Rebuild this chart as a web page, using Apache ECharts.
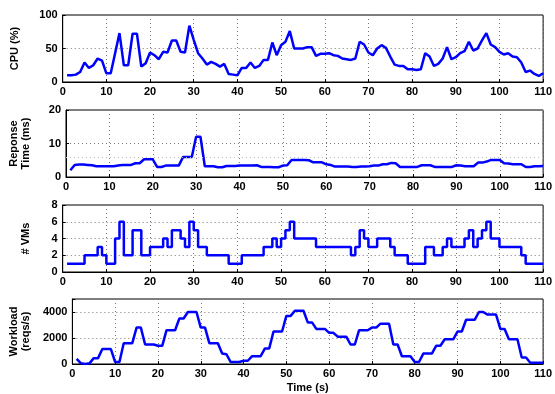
<!DOCTYPE html>
<html>
<head>
<meta charset="utf-8">
<script src="https://cdn.jsdelivr.net/npm/echarts@6/dist/echarts.min.js"></script>
<style>
html,body{margin:0;padding:0;background:#fff;}
#c{width:555px;height:394px;}
</style>
</head>
<body>
<div id="c"></div>
<script>
var time = [1,2,3,4,5,6,7,8,9,10,11,12,13,14,15,16,17,18,19,20,21,22,23,24,25,26,27,28,29,30,
31,32,33,34,35,36,37,38,39,40,41,42,43,44,45,46,47,48,49,50,51,52,53,54,55,56,57,58,59,60,
61,62,63,64,65,66,67,68,69,70,71,72,73,74,75,76,77,78,79,80,81,82,83,84,85,86,87,88,89,90,
91,92,93,94,95,96,97,98,99,100,101,102,103,104,105,106,107,108,109,110];

var cpu = [10,10,11,15,29,21,25,35,32,13,13,43,73,25,25,72,72,23,28,44,40,34,45,44,62,62,45,44,84,63,
43,35,26,30,27,23,27,12,11,10,21,21,29,21,24,33,33,59,40,55,60,76,50,50,50,52,52,39,42,42,
43,40,39,35,34,33,35,60,56,44,40,50,55,51,38,26,24,24,19,19,18,19,43,38,24,27,35,52,34,37,
43,46,60,47,50,62,73,56,52,45,41,43,38,37,29,15,17,12,9,13];

var resp = [2,3.6,3.7,3.7,3.6,3.5,3.2,3.2,3.2,3.2,3.2,3.4,3.6,3.6,3.6,4.1,4.1,5.3,5.3,5.3,3,3,3.4,3.4,3.4,3.4,6,6,6,12,
12,3.2,3.2,3.2,2.9,2.9,3.3,3.3,3.3,3.4,3.4,3.4,3.4,3.5,3,3,3,2.9,2.9,3.4,3.5,5.1,5.1,5.1,5.1,5,4.4,4.4,4.4,3.8,
3.6,3.1,3.1,3.1,3.1,3,3,3.1,3.1,3.2,3.4,3.4,3.8,3.8,4.2,4.1,3,3,3,3,3,3.5,3.5,3.5,3,3,3,3,3,3.5,
3.4,3.2,3.2,3.2,4.3,4.3,4.6,5.1,5.1,5.1,4.1,4,3.8,3.8,3.8,3,3,3.2,3.2,3.3];

var vms = [1,1,1,1,2,2,2,3,2,1,1,4,6,2,2,5,5,2,2,3,3,3,4,3,5,5,4,3,6,5,
3,3,2,2,2,2,2,1,1,1,2,2,2,2,2,3,3,4,3,4,5,6,4,4,4,4,4,3,3,3,
3,3,3,3,3,2,3,5,4,3,3,4,4,4,3,2,2,2,1,1,1,1,3,3,2,2,3,4,3,3,
3,4,5,3,4,5,6,4,4,3,3,3,3,3,2,1,1,1,1,1];

var workload = [400,50,0,50,450,450,1150,1150,1150,150,150,1600,1600,1600,2800,2800,1500,1500,1500,1400,1400,2600,2600,2600,3500,3500,4000,4000,4000,2800,
2800,1600,1600,1600,800,750,150,150,150,250,250,600,600,600,1200,1200,2500,2500,2500,3700,3700,4100,4100,4100,3200,3200,2700,2700,2700,2400,
2400,2100,2100,2100,1500,1500,2600,2600,2600,2800,2800,3100,3100,3100,1500,1500,600,600,600,150,150,800,800,800,1400,1400,1900,1900,1900,2500,
2500,3400,3400,3400,4000,4000,3800,3800,3800,2700,2700,1900,1900,1900,500,500,100,100,100,100];

var xTicks = [0,10,20,30,40,50,60,70,80,90,100,110];
var cpuTicks = [0,50,100];
var respTicks = [0,10,20];
var vmTicks = [0,2,4,6,8];
var wlTicks = [0,2000,4000];
var respThreshold = 6;

var yNames = ['CPU (%)', 'Reponse\nTime (ms)', '# VMs', 'Workload\n(reqs/s)'];

function pairs(vals){ return time.map(function(t,i){ return [t, vals[i]]; }); }

var FONT = 'Liberation Sans, Arial, Helvetica, sans-serif';
var tops = [15, 110, 205, 299];
var H = 67;

var grids = tops.map(function(t){
  return {left: 62.7, right: 8, top: t, height: H, show: true, borderColor: '#000', borderWidth: 1, backgroundColor: 'transparent'};
});

var gridLine = {show: true, lineStyle: {color: '#777', type: [1, 3], width: 1}};

var xAxes = tops.map(function(t, i){
  return {
    type: 'value', gridIndex: i, min: 0, max: 110, interval: 10,
    axisLine: {show: true, lineStyle: {color: '#000', width: 1}},
    axisTick: {show: true, inside: true, length: 3, lineStyle: {color: '#000'}},
    axisLabel: {color: '#000', fontFamily: FONT, fontWeight: 'bold', fontSize: 11, margin: 4},
    splitLine: gridLine,
    name: i === 3 ? 'Time (s)' : '',
    nameLocation: 'middle', nameGap: 18,
    nameTextStyle: {color: '#000', fontFamily: FONT, fontWeight: 'bold', fontSize: 11}
  };
});

var yCfg = [
  {max: 100, interval: 50, gap: 42},
  {max: 20, interval: 10, gap: 34},
  {max: 8, interval: 2, gap: 31},
  {max: 5000, interval: 2000, gap: 31}
];

var yAxes = yCfg.map(function(c, i){
  return {
    type: 'value', gridIndex: i, min: 0, max: c.max, interval: c.interval,
    axisLine: {show: true, lineStyle: {color: '#000', width: 1}},
    axisTick: {show: true, inside: true, length: 3, lineStyle: {color: '#000'}},
    axisLabel: {color: '#000', fontFamily: FONT, fontWeight: 'bold', fontSize: 11, margin: 5,
      formatter: function(v){ return (i === 3 && v > 4000) ? '' : String(v); }},
    splitLine: gridLine,
    name: yNames[i], nameLocation: 'middle', nameRotate: 90, nameGap: c.gap,
    nameTextStyle: {color: '#000', fontFamily: FONT, fontWeight: 'bold', fontSize: 11, lineHeight: 12}
  };
});

var lineStyle = {color: '#0000ff', width: 2.5};

var series = [
  {type: 'line', xAxisIndex: 0, yAxisIndex: 0, data: pairs(cpu), showSymbol: false, lineStyle: lineStyle, itemStyle: {color: '#0000ff'}},
  {type: 'line', xAxisIndex: 1, yAxisIndex: 1, data: pairs(resp), showSymbol: false, lineStyle: lineStyle, itemStyle: {color: '#0000ff'},
   markLine: {silent: true, symbol: 'none', label: {show: false},
     lineStyle: {color: '#bbb', type: [1, 3], width: 1}, data: [{yAxis: respThreshold}]}},
  {type: 'line', xAxisIndex: 2, yAxisIndex: 2, data: pairs(vms), step: 'end', showSymbol: false, lineStyle: lineStyle, itemStyle: {color: '#0000ff'}},
  {type: 'line', xAxisIndex: 3, yAxisIndex: 3, data: pairs(workload), showSymbol: false, lineStyle: lineStyle, itemStyle: {color: '#0000ff'}}
];

var chart = echarts.init(document.getElementById('c'), null, {renderer: 'canvas'});
chart.setOption({
  animation: false,
  backgroundColor: '#fff',
  grid: grids, xAxis: xAxes, yAxis: yAxes, series: series
});
</script>
</body>
</html>
